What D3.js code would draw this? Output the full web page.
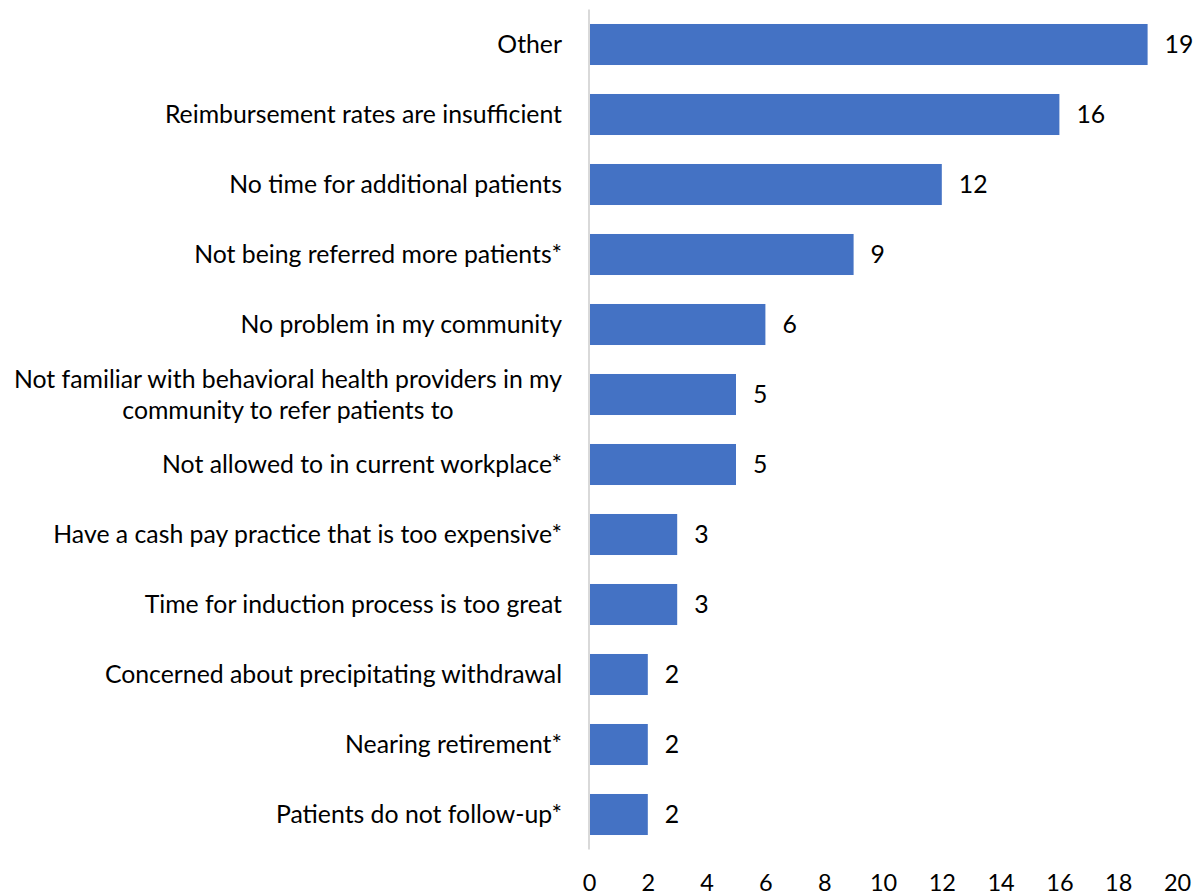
<!DOCTYPE html>
<html><head><meta charset="utf-8">
<script src="https://cdn.jsdelivr.net/npm/d3@7"></script>
<style>body{margin:0;background:#fff}svg{display:block}text{font-family:Lato,"Open Sans",sans-serif;fill:#000}</style>
</head><body><svg id="c" width="1200" height="896"></svg>
<script>
const categories = ["Other","Reimbursement rates are insufficient","No time for additional patients","Not being referred more patients*","No problem in my community","Not familiar with behavioral health providers in my|community to refer patients to","Not allowed to in current workplace*","Have a cash pay practice that is too expensive*","Time for induction process is too great","Concerned about precipitating withdrawal","Nearing retirement*","Patients do not follow-up*"];
const values = [19,16,12,9,6,5,5,3,3,2,2,2];
const ticks = [0,2,4,6,8,10,12,14,16,18,20];

const FS = 24.8;
const svg = d3.select("#c");
const x = d3.scaleLinear().domain([0,20]).range([589,1177]);
const y = d3.scaleBand().domain(categories).range([9.5,849.5]).paddingInner(0.414).paddingOuter(0.207);

svg.selectAll("rect.bar").data(values).join("rect").attr("class","bar")
  .attr("x",x(0)).attr("y",(d,i)=>y(categories[i]))
  .attr("width",d=>x(d)-x(0)).attr("height",y.bandwidth()).attr("fill","#4472C4");

svg.append("line").attr("x1",x(0)).attr("x2",x(0)).attr("y1",9.5).attr("y2",849.5)
  .attr("stroke","#d9d9d9").attr("stroke-width",2);

svg.selectAll("text.val").data(values).join("text").attr("class","val")
  .attr("x",d=>x(d)+17).attr("y",(d,i)=>y(categories[i])+y.bandwidth()/2)
  .attr("dy","0.36em").attr("font-size",FS).text(d=>d);

const lab = svg.selectAll("text.cat").data(categories).join("text").attr("class","cat")
  .attr("font-size",FS).attr("y",d=>y(d)+y.bandwidth()/2);
lab.each(function(d){
  const parts = d.split("|");
  const t = d3.select(this);
  if(parts.length===1){
    t.attr("x",562).attr("text-anchor","end").attr("dy","0.36em").text(d);
  } else {
    const tmp = svg.append("text").attr("font-size",FS).text(parts[0]);
    const w = tmp.node().getComputedTextLength(); tmp.remove();
    const cx = 562 - w/2;
    t.attr("text-anchor","middle");
    parts.forEach((p,k)=>{
      t.append("tspan").attr("x",cx).attr("dy",k===0?(0.36*FS-15.5)+"px":"31px").text(p);
    });
  }
});

const ax = d3.axisBottom(x).tickValues(ticks).tickSize(0).tickPadding(0);
const g = svg.append("g").attr("transform","translate(0,891)").call(ax);
g.select(".domain").remove();
g.selectAll("text").attr("font-size",23.5).attr("font-family","Lato,'Open Sans',sans-serif").attr("fill","#000").attr("dy","0").attr("y",0);
</script></body></html>
